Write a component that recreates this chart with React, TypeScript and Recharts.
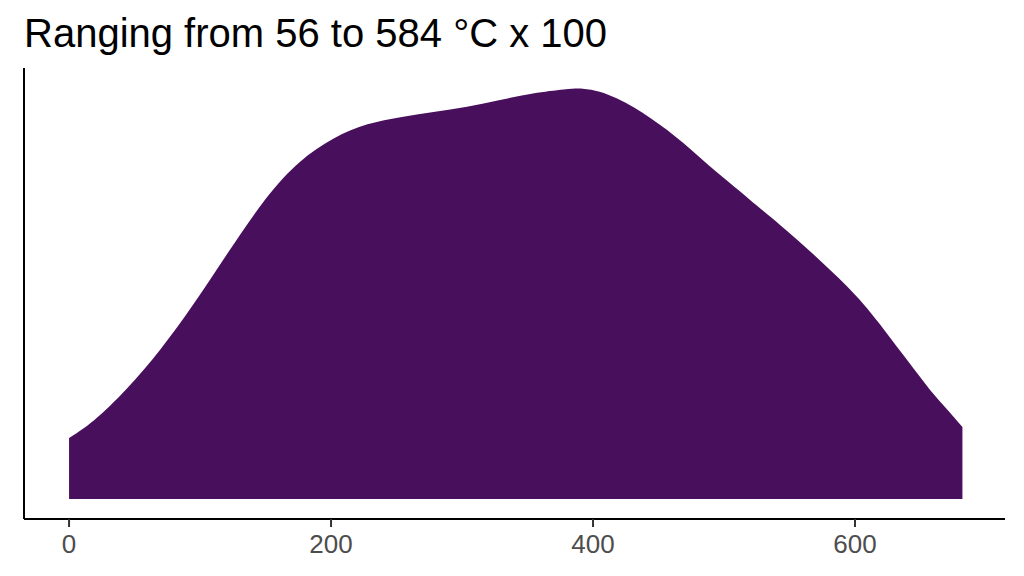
import React from "react";
import { AreaChart, Area, XAxis, YAxis } from "recharts";

const temps = [0, 18, 44, 70, 95, 121, 151, 176, 202, 228, 253, 278, 304, 329, 354, 380, 392, 405, 418, 431, 444, 457, 469, 482, 495, 508, 520, 530, 543, 556, 568, 581, 594, 606, 619, 632, 645, 657, 670, 682];
const density = [61, 76, 109, 149, 194, 246, 304, 339, 362, 376, 382, 387, 392, 399, 406, 410, 411, 408, 401, 392, 381, 369, 356, 341, 326, 312, 299, 288, 274, 259, 245, 229, 213, 196, 175, 152, 130, 109, 90, 72];
const xTicks = [0, 200, 400, 600];

const data = temps.map((t, i) => ({ t, d: density[i] }));

export default function App() {
  return (
    <div style={{ position: "absolute", left: 0, top: 0, width: 1024, height: 576, background: "#fff" }}>
      <div
        style={{
          position: "absolute",
          left: 24,
          top: 13,
          fontFamily: "'Liberation Sans', Arial, sans-serif",
          fontSize: 40,
          lineHeight: "40px",
          color: "#000",
          whiteSpace: "nowrap",
        }}
      >
        Ranging from 56 to 584 °C x 100
      </div>
      <AreaChart
        width={1024}
        height={576}
        data={data}
        margin={{ top: 68, right: 19, bottom: 0, left: 0 }}
      >
        <XAxis
          dataKey="t"
          type="number"
          domain={[-34.4, 714.5]}
          allowDataOverflow
          ticks={xTicks}
          height={57}
          tickSize={8}
          tickMargin={8}
          axisLine={{ stroke: "#000", strokeWidth: 2 }}
          tickLine={{ stroke: "#333", strokeWidth: 2 }}
          tick={{ fill: "#4d4d4d", fontSize: 26, fontFamily: "'Liberation Sans', Arial, sans-serif" }}
        />
        <YAxis
          type="number"
          domain={[-20, 431]}
          allowDataOverflow
          width={24}
          tick={false}
          tickLine={false}
          axisLine={{ stroke: "#000", strokeWidth: 2 }}
        />
        <Area
          type="basis"
          dataKey="d"
          fill="#480F5C"
          fillOpacity={1}
          stroke="none"
          isAnimationActive={false}
          baseValue={0}
        />
      </AreaChart>
    </div>
  );
}
